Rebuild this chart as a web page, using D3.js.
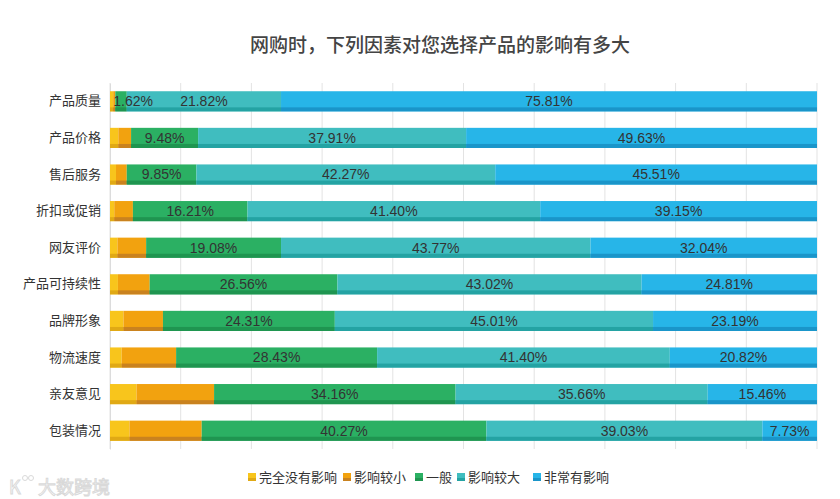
<!DOCTYPE html>
<html>
<head>
<meta charset="utf-8">
<script src="https://cdnjs.cloudflare.com/ajax/libs/d3/7.8.5/d3.min.js"></script>
<style>
  body { margin: 0; background: #fff; }
  text { font-family: "Noto Sans CJK SC", "Noto Sans", sans-serif; }
</style>
</head>
<body>
<div id="chart"></div>
<script>
const categories = ["产品质量", "产品价格", "售后服务", "折扣或促销", "网友评价", "产品可持续性", "品牌形象", "物流速度", "亲友意见", "包装情况"];
const seriesNames = ["完全没有影响", "影响较小", "一般", "影响较大", "非常有影响"];
const noneVals = [0.45, 1.18, 0.85, 0.60, 1.05, 1.12, 1.90, 1.65, 3.75, 2.75];
const smallVals = [0.30, 1.80, 1.52, 2.64, 4.06, 4.49, 5.59, 7.70, 10.97, 10.22];
const normalVals = [1.62, 9.48, 9.85, 16.21, 19.08, 26.56, 24.31, 28.43, 34.16, 40.27];
const bigVals = [21.82, 37.91, 42.27, 41.40, 43.77, 43.02, 45.01, 41.40, 35.66, 39.03];
const hugeVals = [75.81, 49.63, 45.51, 39.15, 32.04, 24.81, 23.19, 20.82, 15.46, 7.73];
const xTicks = [0, 10, 20, 30, 40, 50, 60, 70, 80, 90, 100];

const colors = ["#f8c51c", "#f2a20f", "#2bb063", "#40bdbf", "#27b5e8"];
const darkColors = ["#e0a915", "#c9821f", "#1f9550", "#24a3a3", "#1a95c9"];
const showLabel = [false, false, true, true, true];

const W = 840, H = 499;
const svg = d3.select("#chart").append("svg")
    .attr("width", W)
    .attr("height", H);

// rows for the stack
let rows = categories.map(function (c, i) {
    return {
        cat: c,
        "完全没有影响": noneVals[i],
        "影响较小": smallVals[i],
        "一般": normalVals[i],
        "影响较大": bigVals[i],
        "非常有影响": hugeVals[i]
    };
});
let stacked = d3.stack().keys(seriesNames)(rows);

let x = d3.scaleLinear().domain([0, 100]).range([110, 817]);
let y = d3.scaleBand().domain(categories).range([83, 449]).paddingInner(0.45).paddingOuter(0.225);

// title
svg.append("text")
    .attr("x", 440)
    .attr("y", 52)
    .attr("text-anchor", "middle")
    .attr("font-size", 19)
    .attr("font-weight", 500)
    .attr("fill", "#444")
    .text("网购时，下列因素对您选择产品的影响有多大");

// vertical grid
svg.append("g").selectAll("line")
    .data(xTicks)
    .enter().append("line")
    .attr("x1", d => x(d)).attr("x2", d => x(d))
    .attr("y1", 83).attr("y2", 449)
    .attr("stroke", "#e3e3e3")
    .attr("stroke-width", 1);

// y axis labels
let yAxis = svg.append("g")
    .attr("transform", "translate(110,0)")
    .call(d3.axisLeft(y).tickSize(0).tickPadding(9));
yAxis.select(".domain").attr("stroke", "#dcdcdc");
yAxis.selectAll("text")
    .attr("font-size", 13)
    .attr("fill", "#333")
    .style("font-family", '"Noto Sans CJK SC", sans-serif');

// bars
let bh = y.bandwidth();
let layers = svg.append("g").selectAll("g")
    .data(stacked)
    .enter().append("g");

layers.selectAll("rect.main")
    .data(d => d)
    .enter().append("rect")
    .attr("class", "main")
    .attr("x", d => x(d[0]))
    .attr("y", d => y(d.data.cat))
    .attr("width", d => x(d[1]) - x(d[0]))
    .attr("height", bh)
    .attr("fill", function () { return colors[d3.select(this.parentNode).datum().index]; });

layers.selectAll("rect.shade")
    .data(d => d)
    .enter().append("rect")
    .attr("class", "shade")
    .attr("x", d => x(d[0]))
    .attr("y", d => y(d.data.cat) + bh - 4)
    .attr("width", d => x(d[1]) - x(d[0]))
    .attr("height", 4)
    .attr("fill", function () { return darkColors[d3.select(this.parentNode).datum().index]; });

// value labels, drawn on top of all bars
let labelData = [];
stacked.forEach(function (s) {
    if (!showLabel[s.index]) return;
    s.forEach(p => labelData.push({ p: p, key: s.key }));
});
svg.append("g").selectAll("text")
    .data(labelData)
    .enter().append("text")
    .style("font-family", '"Liberation Sans", Arial, sans-serif')
    .attr("font-size", 14)
    .attr("fill", "#333")
    .attr("dy", "0.35em")
    .attr("y", d => y(d.p.data.cat) + bh / 2)
    .text(d => (d.p[1] - d.p[0]).toFixed(2) + "%")
    .each(function (d) {
        let w = this.getComputedTextLength();
        let x0 = x(d.p[0]), x1 = x(d.p[1]);
        if (w > x1 - x0) {
            d3.select(this).attr("x", x0 - 2).attr("text-anchor", "start");
        } else {
            d3.select(this).attr("x", (x0 + x1) / 2).attr("text-anchor", "middle");
        }
    });

// legend
let legendX = [248, 343, 415, 457, 533];
let legend = svg.append("g").selectAll("g")
    .data(seriesNames)
    .enter().append("g")
    .attr("transform", (d, i) => "translate(" + legendX[i] + ",477)");
legend.append("rect")
    .attr("x", 0).attr("y", -4)
    .attr("width", 8).attr("height", 8)
    .attr("fill", (d, i) => colors[i]);
legend.append("rect")
    .attr("x", 0).attr("y", 1)
    .attr("width", 8).attr("height", 3)
    .attr("fill", (d, i) => darkColors[i]);
legend.append("text")
    .attr("x", 11)
    .attr("dy", "0.35em")
    .attr("font-size", 13)
    .attr("fill", "#333")
    .text(d => d);

// watermark
let wm = svg.append("g").attr("opacity", 0.55);
wm.append("text")
    .attr("x", 9).attr("y", 494)
    .attr("font-size", 18)
    .attr("fill", "#fff")
    .attr("stroke", "#bbb")
    .attr("stroke-width", 1)
    .text("K");
wm.append("circle").attr("cx", 25).attr("cy", 478).attr("r", 2.5).attr("fill", "none").attr("stroke", "#bbb");
wm.append("circle").attr("cx", 31).attr("cy", 478).attr("r", 2.5).attr("fill", "none").attr("stroke", "#bbb");
wm.append("text")
    .attr("x", 38).attr("y", 494)
    .attr("font-size", 18)
    .attr("fill", "#fff")
    .attr("stroke", "#bbb")
    .attr("stroke-width", 1)
    .text("大数跨境");
</script>
</body>
</html>
